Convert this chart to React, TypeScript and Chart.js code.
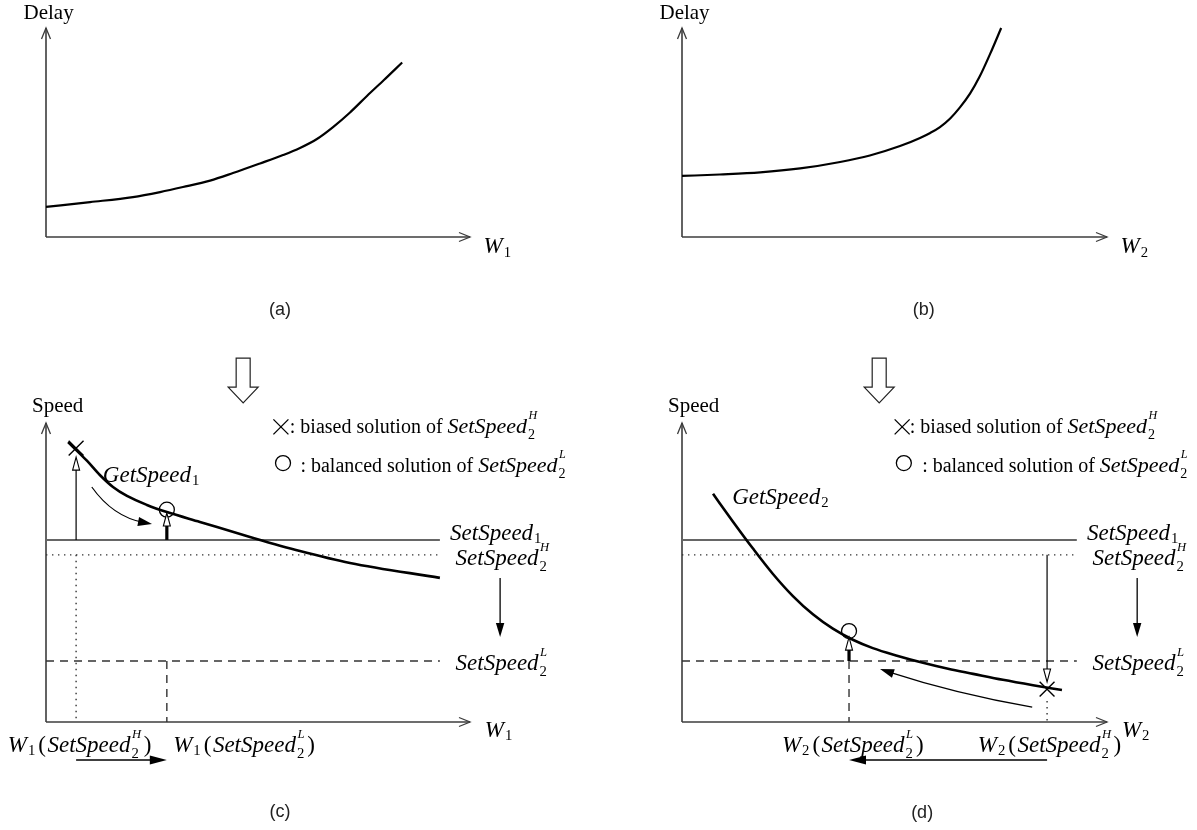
import React, { useEffect, useRef } from "react";
import { Chart, registerables } from "chart.js";
Chart.register(...registerables);

const SERIF = '"Liberation Serif", "Times New Roman", Times, serif';
const SANS = '"Liberation Sans", Arial, Helvetica, sans-serif';

// ---------------- data (axis units 0..100 on both axes) ----------------
// (a) Delay vs W1
const delay1W = [0, 10.4, 20.5, 26.9, 32.3, 38.7, 44.1, 50.5, 55.9, 59.9, 63.9, 67.7, 71.7, 75.7, 79.7, 84.0];
const delay1D = [14.4, 16.7, 19.1, 21.5, 23.9, 27.0, 30.6, 35.2, 39.2, 42.6, 46.9, 52.6, 59.6, 67.5, 75.1, 83.5];
// (b) Delay vs W2
const delay2W = [0, 8.9, 18.4, 27.8, 37.2, 44.2, 51.3, 56.0, 58.4, 60.7, 63.1, 65.4, 67.8, 70.1, 72.5, 75.1];
const delay2D = [29.2, 29.9, 30.9, 32.8, 35.9, 39.0, 43.5, 47.4, 49.8, 52.6, 56.7, 62.0, 68.7, 77.0, 87.6, 100.0];
// (c) GetSpeed1 vs W1
const speed1W = [5.2, 9.7, 12.7, 15.8, 19.1, 23.8, 28.5, 36.3, 48.1, 59.9, 71.7, 92.9];
const speed1S = [93.6, 87.3, 82.6, 78.6, 75.6, 72.6, 70.2, 66.9, 61.9, 57.2, 53.2, 48.2];
// (d) GetSpeed2 vs W2
const speed2W = [7.3, 12.0, 16.7, 21.4, 26.1, 30.8, 35.5, 40.2, 44.9, 50.8, 56.7, 62.6, 68.5, 75.5, 82.6, 89.4];
const speed2S = [76.3, 67.0, 58.0, 49.5, 42.1, 36.0, 31.2, 27.5, 24.7, 22.1, 19.8, 17.8, 16.1, 14.1, 12.3, 10.7];
// set-speed levels: SetSpeed1, SetSpeed2^H, SetSpeed2^L
const setSpeedLevels = [60.9, 55.9, 20.4];
const setLineEnd = [0, 92.9];
// solutions [W, Speed]
const biased1 = [7.1, 91.6];
const balanced1 = [28.5, 71.0];
const biased2 = [85.9, 11.0];
const balanced2 = [39.3, 30.4];

type Tok = { t?: string; it?: boolean; sub?: string; sup?: string };
const zip = (xs: number[], ys: number[]) => xs.map((x, i) => ({ x, y: ys[i] }));
const SS = (sub: string, sup?: string): Tok[] => [{ t: "SetSpeed", it: true }, { sub, sup }];
const Wn = (n: string): Tok[] => [{ t: "W", it: true }, { sub: n }];
const WofSS = (n: string, sup: string): Tok[] => [...Wn(n), { t: "(" }, ...SS("2", sup), { t: ")" }];

const fnt = (size: number, it?: boolean) => `${it ? "italic " : ""}${size}px ${SERIF}`;

function tokWidth(ctx: CanvasRenderingContext2D, tok: Tok, size: number) {
  if (tok.t !== undefined) {
    ctx.font = fnt(size, tok.it);
    const pad = !tok.it && (tok.t === "(" || tok.t === ")") ? 3 : 0;
    return ctx.measureText(tok.t).width + pad;
  }
  let w = 0;
  if (tok.sub) { ctx.font = fnt(size * 0.64); w = Math.max(w, ctx.measureText(tok.sub).width); }
  if (tok.sup) { ctx.font = fnt(size * 0.55, true); w = Math.max(w, ctx.measureText(tok.sup).width); }
  return w + 2.5;
}

function drawMath(ctx: CanvasRenderingContext2D, toks: Tok[], x: number, y: number, size: number) {
  ctx.save();
  ctx.textAlign = "left";
  ctx.textBaseline = "alphabetic";
  ctx.fillStyle = "#000";
  let cx = x;
  toks.forEach((tok) => {
    const w = tokWidth(ctx, tok, size);
    if (tok.t !== undefined) {
      ctx.font = fnt(size, tok.it);
      const pad = !tok.it && (tok.t === "(" || tok.t === ")") ? 1.5 : 0;
      ctx.fillText(tok.t, cx + pad, y);
    } else {
      const both = !!(tok.sub && tok.sup);
      if (tok.sub) { ctx.font = fnt(size * 0.64); ctx.fillText(tok.sub, cx + 1, y + size * (both ? 0.27 : 0.15)); }
      if (tok.sup) { ctx.font = fnt(size * 0.55, true); ctx.fillText(tok.sup, cx + 1.5, y - size * 0.62); }
    }
    cx += w;
  });
  ctx.restore();
  return cx - x;
}

function seg(ctx: CanvasRenderingContext2D, x1: number, y1: number, x2: number, y2: number, w = 1.2, col = "#000") {
  ctx.save();
  ctx.strokeStyle = col;
  ctx.lineWidth = w;
  ctx.beginPath();
  ctx.moveTo(x1, y1);
  ctx.lineTo(x2, y2);
  ctx.stroke();
  ctx.restore();
}

function headPts(tx: number, ty: number, ang: number, len: number, half: number) {
  const bx = tx - len * Math.cos(ang), by = ty - len * Math.sin(ang);
  return [
    [bx + half * Math.sin(ang), by - half * Math.cos(ang)],
    [bx - half * Math.sin(ang), by + half * Math.cos(ang)],
  ];
}
function filledHead(ctx: CanvasRenderingContext2D, tx: number, ty: number, ang: number, len = 13, half = 4.5) {
  const [a, b] = headPts(tx, ty, ang, len, half);
  ctx.save();
  ctx.fillStyle = "#000";
  ctx.beginPath();
  ctx.moveTo(tx, ty); ctx.lineTo(a[0], a[1]); ctx.lineTo(b[0], b[1]); ctx.closePath();
  ctx.fill();
  ctx.restore();
}
function hollowHead(ctx: CanvasRenderingContext2D, tx: number, ty: number, ang: number, len = 13, half = 3.5) {
  const [a, b] = headPts(tx, ty, ang, len, half);
  ctx.save();
  ctx.fillStyle = "#fff";
  ctx.strokeStyle = "#000";
  ctx.lineWidth = 1.1;
  ctx.beginPath();
  ctx.moveTo(tx, ty); ctx.lineTo(a[0], a[1]); ctx.lineTo(b[0], b[1]); ctx.closePath();
  ctx.fill();
  ctx.stroke();
  ctx.restore();
}
function openHead(ctx: CanvasRenderingContext2D, tx: number, ty: number, ang: number, len = 11, half = 4.5, col = "#3c3c3c") {
  const [a, b] = headPts(tx, ty, ang, len, half);
  ctx.save();
  ctx.strokeStyle = col;
  ctx.lineWidth = 1.3;
  ctx.beginPath();
  ctx.moveTo(a[0], a[1]); ctx.lineTo(tx, ty); ctx.lineTo(b[0], b[1]);
  ctx.stroke();
  ctx.restore();
}

const PX = (c: any, v: number) => c.scales.x.getPixelForValue(v);
const PY = (c: any, v: number) => c.scales.y.getPixelForValue(v);

function drawAxes(c: any) {
  const ctx = c.ctx as CanvasRenderingContext2D;
  const x0 = PX(c, 0), y0 = PY(c, 0), x1 = PX(c, 100), y1 = PY(c, 100);
  seg(ctx, x0, y0, x0, y1, 1.6, "#3c3c3c");
  seg(ctx, x0, y0, x1, y0, 1.6, "#3c3c3c");
  openHead(ctx, x0, y1, -Math.PI / 2);
  openHead(ctx, x1, y0, 0);
}

function panelLabel(c: any, text: string, at: number[]) {
  const ctx = c.ctx as CanvasRenderingContext2D;
  ctx.save();
  ctx.font = `18px ${SANS}`;
  ctx.fillStyle = "#222";
  ctx.textAlign = "center";
  ctx.textBaseline = "middle";
  ctx.fillText(text, PX(c, at[0]), PY(c, at[1]));
  ctx.restore();
}

function plainText(c: any, text: string, at: number[], size = 20) {
  const ctx = c.ctx as CanvasRenderingContext2D;
  ctx.save();
  ctx.font = fnt(size);
  ctx.fillStyle = "#000";
  ctx.textAlign = "left";
  ctx.textBaseline = "alphabetic";
  ctx.fillText(text, PX(c, at[0]), PY(c, at[1]));
  const w = ctx.measureText(text).width;
  ctx.restore();
  return w;
}

interface DelaySpec { yLabel: string; wSub: string; panel: string; panelAt: number[] }

function delayPlugin(s: DelaySpec) {
  return {
    id: "delayDeco",
    beforeDatasetsDraw(c: any) { drawAxes(c); },
    afterDatasetsDraw(c: any) {
      const ctx = c.ctx as CanvasRenderingContext2D;
      plainText(c, s.yLabel, [-5.3, 104.3], 21);
      drawMath(ctx, Wn(s.wSub), PX(c, 103.2), PY(c, -7.7), 23);
      panelLabel(c, s.panel, s.panelAt);
    },
  };
}

interface SpeedSpec {
  wSub: string;
  panel: string; panelAt: number[];
  thin: { x: number; from: number; to: number };
  thick: { x: number; from: number; to: number };
  curved: { from: number[]; ctrl: number[]; to: number[] };
  bottomArrow: { from: number; to: number };
  legend: { cross: number[]; crossText: number; circle: number[]; circleText: number };
  getLabel: number[]; getSub: string;
  bottomLabels: { x: number; toks: Tok[] }[];
  bigArrowX: number;
}

function speedPlugin(s: SpeedSpec) {
  return {
    id: "speedDeco",
    beforeDatasetsDraw(c: any) { drawAxes(c); },
    afterDatasetsDraw(c: any) {
      const ctx = c.ctx as CanvasRenderingContext2D;
      plainText(c, "Speed", [-3.3, 103.7], 21);
      drawMath(ctx, Wn(s.wSub), PX(c, 103.5), PY(c, -5.0), 23);

      // big hollow arrow from the upper panel
      {
        const cx = PX(c, s.bigArrowX), top = PY(c, 121.7), hs = PY(c, 112.0), tip = PY(c, 106.7);
        ctx.save();
        ctx.fillStyle = "#fff";
        ctx.strokeStyle = "#222";
        ctx.lineWidth = 1.2;
        ctx.beginPath();
        ctx.moveTo(cx - 7, top); ctx.lineTo(cx + 7, top); ctx.lineTo(cx + 7, hs); ctx.lineTo(cx + 15, hs);
        ctx.lineTo(cx, tip); ctx.lineTo(cx - 15, hs); ctx.lineTo(cx - 7, hs); ctx.closePath();
        ctx.fill(); ctx.stroke();
        ctx.restore();
      }

      // legend
      {
        const L = s.legend;
        const cx = PX(c, L.cross[0]), cy = PY(c, L.cross[1]);
        seg(ctx, cx - 7.5, cy - 7.5, cx + 7.5, cy + 7.5, 1.3);
        seg(ctx, cx - 7.5, cy + 7.5, cx + 7.5, cy - 7.5, 1.3);
        const w1 = plainText(c, ": biased solution of ", [L.crossText, 96.7], 20);
        drawMath(ctx, SS("2", "H"), PX(c, L.crossText) + w1, PY(c, 96.7), 22);
        ctx.save();
        ctx.strokeStyle = "#000"; ctx.lineWidth = 1.3;
        ctx.beginPath();
        ctx.arc(PX(c, L.circle[0]), PY(c, L.circle[1]), 7.5, 0, Math.PI * 2);
        ctx.stroke();
        ctx.restore();
        const w2 = plainText(c, ": balanced solution of ", [L.circleText, 83.6], 20);
        drawMath(ctx, SS("2", "L"), PX(c, L.circleText) + w2, PY(c, 83.6), 22);
      }

      drawMath(ctx, [{ t: "GetSpeed", it: true }, { sub: s.getSub }], PX(c, s.getLabel[0]), PY(c, s.getLabel[1]), 23);

      drawMath(ctx, SS("1"), PX(c, 95.3), PY(c, 60.9), 23);
      drawMath(ctx, SS("2", "H"), PX(c, 96.6), PY(c, 52.5), 23);
      drawMath(ctx, SS("2", "L"), PX(c, 96.6), PY(c, 17.4), 23);
      {
        const x = PX(c, 107.1), y1 = PY(c, 48.2), y2 = PY(c, 28.4);
        seg(ctx, x, y1, x, y2 - 10, 1.3);
        filledHead(ctx, x, y2, Math.PI / 2, 14, 4.2);
      }

      {
        const x = PX(c, s.thin.x), y1 = PY(c, s.thin.from), y2 = PY(c, s.thin.to);
        const dir = y2 < y1 ? -1 : 1;
        seg(ctx, x, y1, x, y2 - dir * 11, 1.2);
        hollowHead(ctx, x, y2, dir < 0 ? -Math.PI / 2 : Math.PI / 2, 13, 3.5);
      }
      {
        const x = PX(c, s.thick.x), y1 = PY(c, s.thick.from), y2 = PY(c, s.thick.to);
        seg(ctx, x, y1, x, y2 + 11, 3.2);
        hollowHead(ctx, x, y2, -Math.PI / 2, 13, 3.5);
      }
      {
        const a = s.curved.from, k = s.curved.ctrl, b = s.curved.to;
        const ax = PX(c, a[0]), ay = PY(c, a[1]), kx = PX(c, k[0]), ky = PY(c, k[1]), bx = PX(c, b[0]), by = PY(c, b[1]);
        const ang = Math.atan2(by - ky, bx - kx);
        ctx.save();
        ctx.strokeStyle = "#000"; ctx.lineWidth = 1.2;
        ctx.beginPath();
        ctx.moveTo(ax, ay);
        ctx.quadraticCurveTo(kx, ky, bx - 8 * Math.cos(ang), by - 8 * Math.sin(ang));
        ctx.stroke();
        ctx.restore();
        filledHead(ctx, bx, by, ang, 14, 4.5);
      }
      s.bottomLabels.forEach((bl) => drawMath(ctx, bl.toks, PX(c, bl.x), PY(c, -10.0), 23));
      {
        const x1 = PX(c, s.bottomArrow.from), x2 = PX(c, s.bottomArrow.to), y = PY(c, -12.7);
        const dir = x2 > x1 ? 1 : -1;
        seg(ctx, x1, y, x2 - dir * 10, y, 1.5);
        filledHead(ctx, x2, y, dir > 0 ? 0 : Math.PI, 17, 4.5);
      }
      panelLabel(c, s.panel, s.panelAt);
    },
  };
}

const lineDs = (data: any[], extra: any = {}) => ({
  data, borderColor: "#000", borderWidth: 1.4, pointRadius: 0, clip: false, ...extra,
});

function speedDatasets(W: number[], S: number[], biased: number[], balanced: number[], dropFrom: number) {
  const [l1, lH, lL] = setSpeedLevels;
  const [x0, x1] = setLineEnd;
  return [
    lineDs(zip(W, S), { borderWidth: 2.6, cubicInterpolationMode: "monotone" }),
    lineDs([{ x: x0, y: l1 }, { x: x1, y: l1 }], { borderColor: "#666", borderWidth: 2 }),
    lineDs([{ x: x0, y: lH }, { x: x1, y: lH }], { borderColor: "#333", borderDash: [1.4, 4.6] }),
    lineDs([{ x: x0, y: lL }, { x: x1, y: lL }], { borderColor: "#333", borderDash: [8, 6] }),
    lineDs([{ x: biased[0], y: dropFrom }, { x: biased[0], y: 0 }], { borderColor: "#333", borderDash: [1.4, 4.6] }),
    lineDs([{ x: balanced[0], y: lL }, { x: balanced[0], y: 0 }], { borderColor: "#333", borderDash: [8, 6] }),
    {
      data: [{ x: biased[0], y: biased[1] }], showLine: false, pointStyle: "crossRot", pointRadius: 10.5,
      pointBorderWidth: 1.4, pointBorderColor: "#000", pointBackgroundColor: "#000", clip: false,
    },
    {
      data: [{ x: balanced[0], y: balanced[1] }], showLine: false, pointStyle: "circle", pointRadius: 7.5,
      pointBorderWidth: 1.3, pointBorderColor: "#000", pointBackgroundColor: "rgba(0,0,0,0)", clip: false,
    },
  ];
}

const PANELS = [
  {
    left: 0, top: 0, w: 598, h: 340,
    padding: { left: 46, top: 28, right: 128, bottom: 103 },
    datasets: [lineDs(zip(delay1W, delay1D), { borderWidth: 2.2, cubicInterpolationMode: "monotone" })],
    plugin: delayPlugin({ yLabel: "Delay", wSub: "1", panel: "(a)", panelAt: [55.2, -34.9] }),
  },
  {
    left: 598, top: 0, w: 599, h: 340,
    padding: { left: 84, top: 28, right: 90, bottom: 103 },
    datasets: [lineDs(zip(delay2W, delay2D), { borderWidth: 2.2, cubicInterpolationMode: "monotone" })],
    plugin: delayPlugin({ yLabel: "Delay", wSub: "2", panel: "(b)", panelAt: [56.9, -34.9] }),
  },
  {
    left: 0, top: 340, w: 598, h: 490,
    padding: { left: 46, top: 83, right: 128, bottom: 108 },
    datasets: speedDatasets(speed1W, speed1S, biased1, balanced1, setSpeedLevels[1]),
    plugin: speedPlugin({
      wSub: "1", panel: "(c)", panelAt: [55.2, -30.1],
      thin: { x: biased1[0], from: setSpeedLevels[0], to: 88.6 },
      thick: { x: balanced1[0], from: setSpeedLevels[0], to: 69.9 },
      curved: { from: [10.8, 78.6], ctrl: [15.8, 68.6], to: [25.0, 66.2] },
      bottomArrow: { from: biased1[0], to: balanced1[0] },
      legend: { cross: [55.4, 98.7], crossText: 57.5, circle: [55.9, 86.6], circleText: 60.0 },
      getLabel: [13.4, 80.3], getSub: "1",
      bottomLabels: [{ x: -9.0, toks: WofSS("1", "H") }, { x: 30.0, toks: WofSS("1", "L") }],
      bigArrowX: 46.5,
    }),
  },
  {
    left: 598, top: 340, w: 599, h: 490,
    padding: { left: 84, top: 83, right: 90, bottom: 108 },
    datasets: speedDatasets(speed2W, speed2S, biased2, balanced2, 7.0),
    plugin: speedPlugin({
      wSub: "2", panel: "(d)", panelAt: [56.5, -30.4],
      thin: { x: biased2[0], from: setSpeedLevels[1], to: 13.4 },
      thick: { x: balanced2[0], from: setSpeedLevels[2], to: 28.4 },
      curved: { from: [82.4, 5.0], ctrl: [64.5, 9.4], to: [46.6, 17.7] },
      bottomArrow: { from: biased2[0], to: balanced2[0] },
      legend: { cross: [51.8, 98.7], crossText: 53.6, circle: [52.2, 86.6], circleText: 56.5 },
      getLabel: [11.8, 72.9], getSub: "2",
      bottomLabels: [{ x: 23.5, toks: WofSS("2", "L") }, { x: 69.6, toks: WofSS("2", "H") }],
      bigArrowX: 46.4,
    }),
  },
];

function makeChart(canvas: HTMLCanvasElement, p: any) {
  return new Chart(canvas, {
    type: "line",
    data: { datasets: p.datasets },
    options: {
      animation: false,
      responsive: false,
      maintainAspectRatio: false,
      events: [],
      layout: { padding: p.padding },
      plugins: { legend: { display: false }, tooltip: { enabled: false }, title: { display: false } },
      elements: { point: { radius: 0 } },
      scales: {
        x: { type: "linear", min: 0, max: 100, display: false },
        y: { type: "linear", min: 0, max: 100, display: false },
      },
    } as any,
    plugins: [p.plugin as any],
  });
}

export default function App() {
  const r0 = useRef<HTMLCanvasElement>(null);
  const r1 = useRef<HTMLCanvasElement>(null);
  const r2 = useRef<HTMLCanvasElement>(null);
  const r3 = useRef<HTMLCanvasElement>(null);
  const refs = [r0, r1, r2, r3];
  useEffect(() => {
    const charts = PANELS.map((p, i) => makeChart(refs[i].current as HTMLCanvasElement, p));
    return () => charts.forEach((c) => c.destroy());
  }, []);
  return (
    <div style={{ position: "absolute", left: 0, top: 0, width: 1197, height: 830, background: "#fff", overflow: "hidden" }}>
      {PANELS.map((p, i) => (
        <canvas
          key={i}
          ref={refs[i]}
          width={p.w}
          height={p.h}
          style={{ position: "absolute", left: p.left, top: p.top, width: p.w, height: p.h }}
        />
      ))}
    </div>
  );
}
